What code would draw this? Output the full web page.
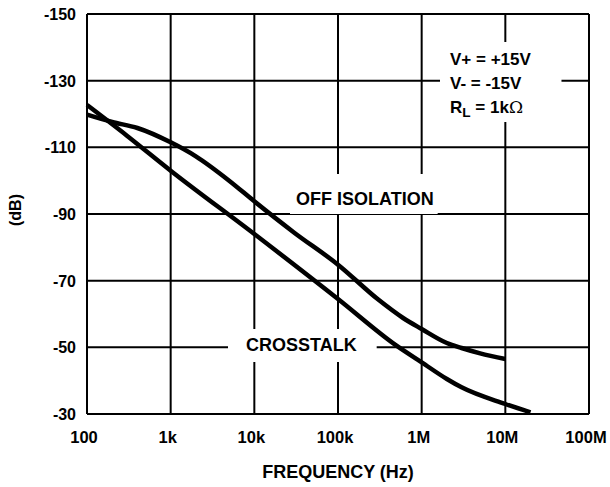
<!DOCTYPE html>
<html>
<head>
<meta charset="utf-8">
<script src="https://cdn.jsdelivr.net/npm/d3@7"></script>
<style>
  body { margin: 0; background: #fff; }
  svg text { font-family: "Liberation Sans", Arial, sans-serif; font-weight: bold; fill: #000; }
</style>
</head>
<body>
<div class="chart-section"></div>
<script>
const freqTicks = [1e2, 1e3, 1e4, 1e5, 1e6, 1e7, 1e8];
const freqLabels = ["100", "1k", "10k", "100k", "1M", "10M", "100M"];
const dbTicks = [-150, -130, -110, -90, -70, -50, -30];

// OFF ISOLATION curve
const offFreq = [100, 200, 400, 1000, 2000, 5000, 1e4, 3e4, 1e5, 3e5, 6e5, 1e6, 2e6, 3e6, 5e6, 1e7];
const offDb = [-119.8, -117.6, -115.8, -111.5, -107.3, -100, -93.8, -84.4, -74.8, -64.4, -58.8, -55.5, -51.3, -49.8, -48.2, -46.5];

// CROSSTALK curve
const xtFreq = [100, 300, 1000, 1e4, 1e5, 5e5, 1e6, 2e6, 3e6, 1e7, 2e7];
const xtDb = [-122.7, -113.5, -103, -84, -64.5, -50.5, -45.5, -40.5, -38, -33, -30.5];

const width = 610;
const height = 487;
const margin = { top: 14, right: 21, bottom: 73, left: 87 };

const svg = d3
  .select(".chart-section")
  .append("svg")
  .attr("width", width)
  .attr("height", height);

const x = d3
  .scaleLog()
  .domain([1e2, 1e8])
  .range([margin.left, width - margin.right]);

const y = d3
  .scaleLinear()
  .domain([-150, -30])
  .range([margin.top, height - margin.bottom]);

// grid
svg
  .append("g")
  .selectAll("line")
  .data(freqTicks)
  .join("line")
  .attr("x1", (d) => x(d))
  .attr("x2", (d) => x(d))
  .attr("y1", y(-150))
  .attr("y2", y(-30))
  .attr("stroke", "#000")
  .attr("stroke-width", 2);

svg
  .append("g")
  .selectAll("line")
  .data(dbTicks)
  .join("line")
  .attr("x1", x(1e2))
  .attr("x2", x(1e8))
  .attr("y1", (d) => y(d))
  .attr("y2", (d) => y(d))
  .attr("stroke", "#000")
  .attr("stroke-width", 2);

// tick labels
svg
  .append("g")
  .selectAll("text")
  .data(dbTicks)
  .join("text")
  .attr("x", margin.left - 11)
  .attr("y", (d) => y(d) + 6)
  .attr("text-anchor", "end")
  .attr("font-size", 16)
  .text((d) => d);

svg
  .append("g")
  .selectAll("text")
  .data(freqTicks)
  .join("text")
  .attr("x", (d) => x(d) - 3)
  .attr("y", y(-30) + 29)
  .attr("text-anchor", "middle")
  .attr("font-size", 16.5)
  .text((d, i) => freqLabels[i]);

svg
  .append("text")
  .attr("x", (x(1e2) + x(1e8)) / 2)
  .attr("y", height - 9)
  .attr("text-anchor", "middle")
  .attr("font-size", 18)
  .text("FREQUENCY (Hz)");

svg
  .append("text")
  .attr("transform", `translate(21, ${(y(-150) + y(-30)) / 2 - 4}) rotate(-90)`)
  .attr("text-anchor", "middle")
  .attr("font-size", 16)
  .text("(dB)");

// labels with white boxes that break the grid
const boxes = svg.append("g");
const labels = svg.append("g");

const addLabel = (lines, lx, ly, size, lineGap, pad) => {
  const g = labels.append("g");
  lines.forEach((parts, i) => {
    const t = g
      .append("text")
      .attr("x", lx)
      .attr("y", ly + i * lineGap)
      .attr("font-size", size);
    parts.forEach((p) => {
      t.append("tspan")
        .attr("font-size", p.sub ? size * 0.8 : null)
        .attr("dy", p.sub ? 4 : p.after ? -4 : null)
        .attr("font-family", p.sym ? "'DejaVu Serif', 'Liberation Serif', serif" : null)
        .attr("font-weight", p.sym ? "normal" : null)
        .text(p.t);
    });
  });
  const b = g.node().getBBox();
  boxes
    .append("rect")
    .attr("x", b.x - pad[3])
    .attr("y", b.y - pad[0])
    .attr("width", b.width + pad[1] + pad[3])
    .attr("height", b.height + pad[0] + pad[2])
    .attr("fill", "#fff");
};

addLabel(
  [
    [{ t: "V+ = +15V" }],
    [{ t: "V- = -15V" }],
    [{ t: "R" }, { t: "L", sub: true }, { t: " = 1k", after: true }, { t: "Ω", sym: true }],
  ],
  450, 65, 17, 24, [8, 30, 2, 10]
);
addLabel([[{ t: "OFF ISOLATION" }]], 296, 205, 18, 0, [15, 4, 5, 6]);
addLabel([[{ t: "CROSSTALK" }]], 246, 351, 18, 0, [6, 20, 7, 18]);

// curves
const line = d3
  .line()
  .x((d) => x(d[0]))
  .y((d) => y(d[1]))
  .curve(d3.curveMonotoneX);

svg
  .append("path")
  .datum(d3.zip(offFreq, offDb))
  .attr("fill", "none")
  .attr("stroke", "#000")
  .attr("stroke-width", 4.5)
  .attr("d", line);

svg
  .append("path")
  .datum(d3.zip(xtFreq, xtDb))
  .attr("fill", "none")
  .attr("stroke", "#000")
  .attr("stroke-width", 4.5)
  .attr("d", line);

labels.raise();
</script>
</body>
</html>
